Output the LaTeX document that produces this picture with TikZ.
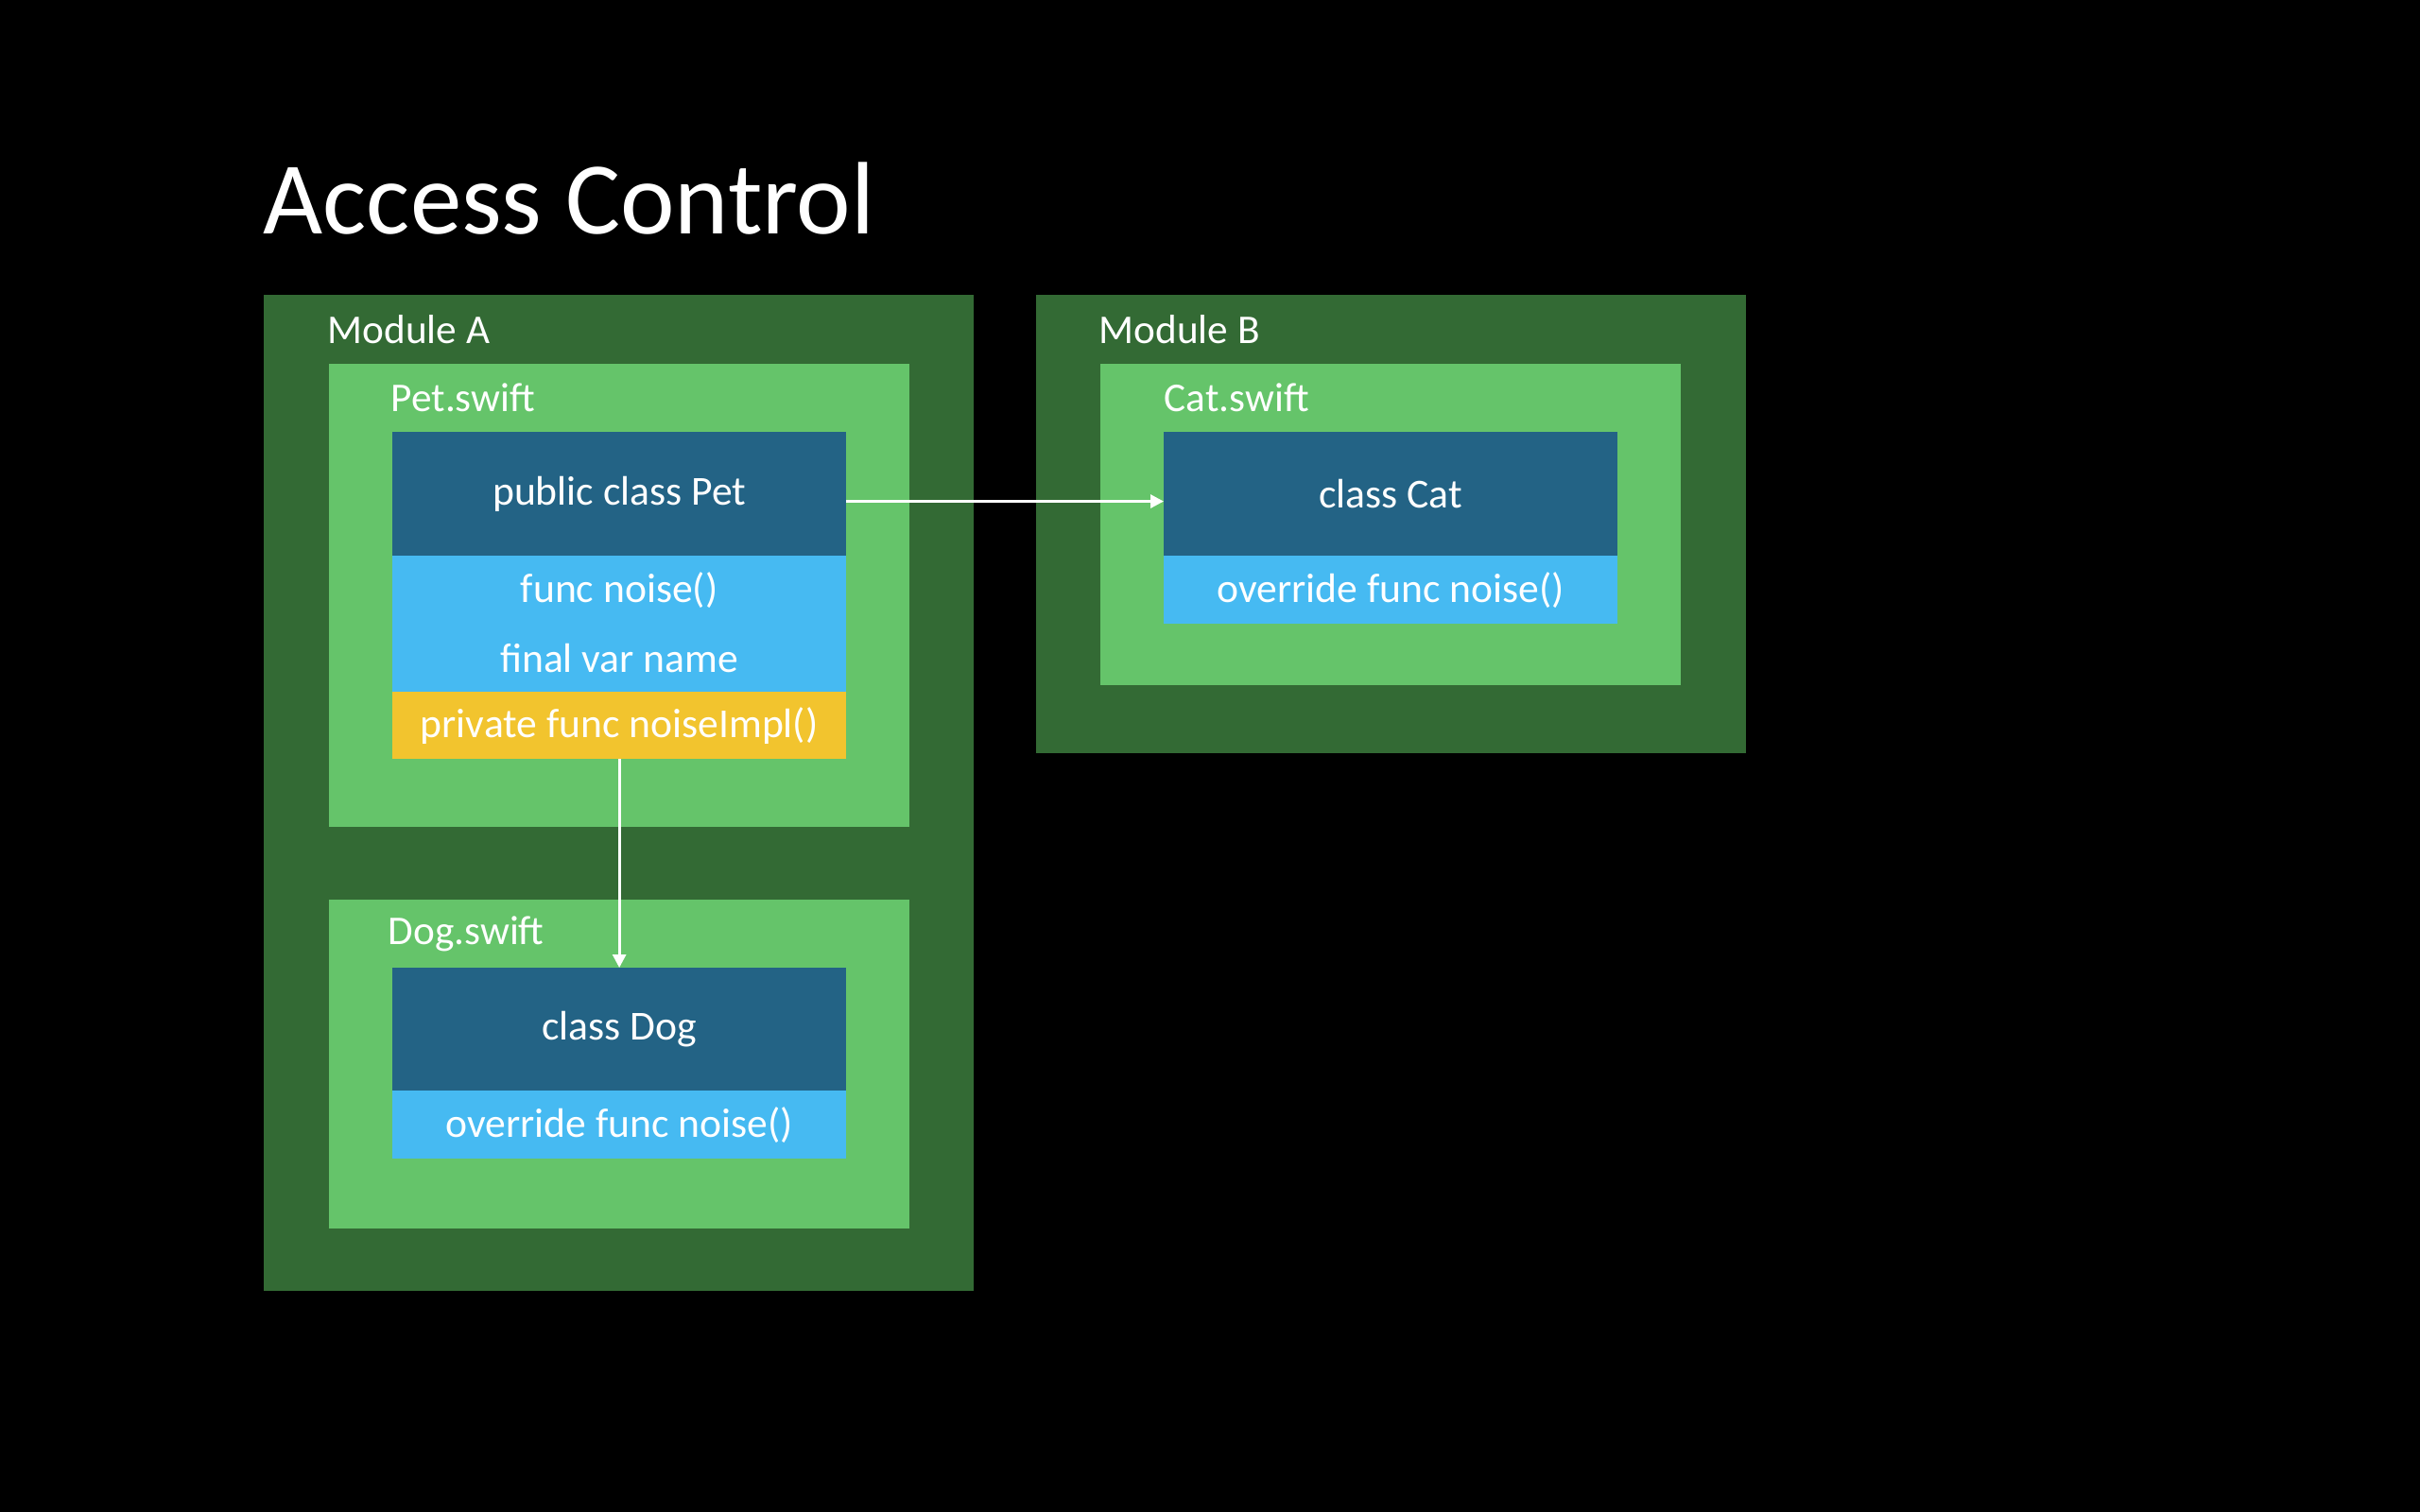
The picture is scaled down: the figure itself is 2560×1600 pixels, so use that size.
\documentclass[tikz,border=0pt]{standalone}
\usepackage{fontspec}
\setmainfont{Carlito}
\usetikzlibrary{positioning,arrows.meta}

\definecolor{moduleGreen}{HTML}{336A34}
\definecolor{fileGreen}{HTML}{65C46A}
\definecolor{headBlue}{HTML}{236385}
\definecolor{rowBlue}{HTML}{46BAF2}
\definecolor{privYellow}{HTML}{F2C42E}

\tikzset{
  box/.style={rectangle, inner sep=0pt, outer sep=0pt, anchor=north west},
  modulebox/.style={box, fill=moduleGreen, minimum width=7.51cm},
  filebox/.style={box, fill=fileGreen, minimum width=6.14cm},
  classhead/.style={box, fill=headBlue, minimum width=4.8cm, minimum height=1.31cm,
    text=white, font=\fontsize{12.4}{14}\selectfont},
  memberrow/.style={rectangle, inner sep=0pt, outer sep=0pt, fill=rowBlue,
    minimum width=4.8cm, minimum height=0.72cm, text=white,
    font=\fontsize{12.4}{14}\selectfont},
  privrow/.style={memberrow, fill=privYellow, minimum height=0.71cm},
  boxlabel/.style={anchor=west, inner sep=0pt, text=white,
    font=\fontsize{12.3}{14}\selectfont},
  link/.style={draw=white, line width=0.85pt,
    -{Triangle[length=0.14cm, width=0.14cm]}}
}

\begin{document}
\begin{tikzpicture}[x=0.01cm, y=-0.01cm]
        % background
        \fill[black] (0,0) rectangle (2560,1600);
        % title
        \node[anchor=base west, inner sep=0pt, text=white,
          font=\fontsize{31}{36}\selectfont] (title) at (278,248) {Access Control};
        % modules
        \node[modulebox, minimum height=10.53cm] (modA) at (279,312) {};
        \node[modulebox, minimum height=4.85cm] (modB) at (1096,312) {};
        \node[boxlabel] (modAlbl) at (346,349) {Module A};
        \node[boxlabel] (modBlbl) at (1162,349) {Module B};
        % files
        \node[filebox, minimum height=4.9cm] (petfile) at (348,385) {};
        \node[filebox, minimum height=3.48cm] (dogfile) at (348,952) {};
        \node[filebox, minimum height=3.4cm] (catfile) at (1164,385) {};
        \node[boxlabel] (petlbl) at (413,421) {Pet.swift};
        \node[boxlabel] (doglbl) at (410,988) {Dog.swift};
        \node[boxlabel] (catlbl) at (1231,421) {Cat.swift};
        % class Pet
        \node[classhead] (pet) at (415,457) {public class Pet};
        \node[memberrow, below=0pt of pet] (petnoise) {func noise()};
        \node[memberrow, below=0pt of petnoise] (petname) {final var name};
        \node[privrow, below=0pt of petname] (petimpl) {private func noiseImpl()};
        % class Dog
        \node[classhead, minimum height=1.3cm] (dog) at (415,1024) {class Dog};
        \node[memberrow, below=0pt of dog] (dognoise) {override func noise()};
        % class Cat
        \node[classhead] (cat) at (1231,457) {class Cat};
        \node[memberrow, below=0pt of cat] (catnoise) {override func noise()};
        % subclassing
        \draw[link] ([yshift=-0.08cm]pet.east) -- ([yshift=-0.08cm]cat.west);
        \draw[link] (petimpl.south) -- (dog.north);
\end{tikzpicture}
\end{document}
